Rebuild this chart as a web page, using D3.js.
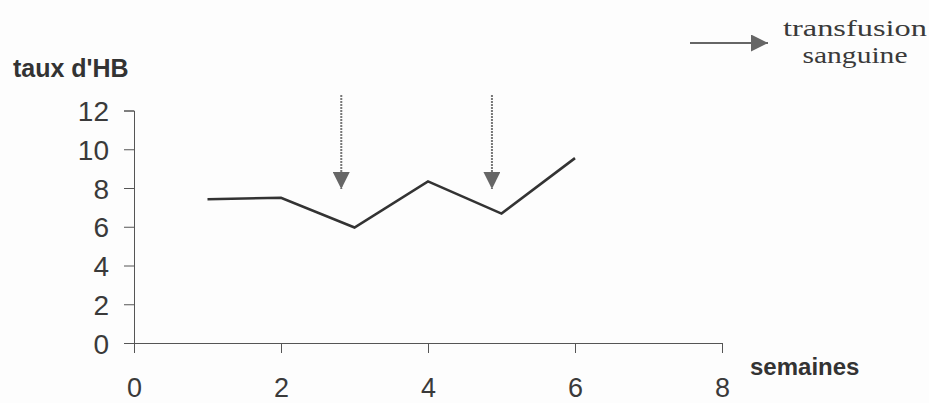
<!DOCTYPE html>
<html>
<head>
<meta charset="utf-8">
<script src="https://cdn.jsdelivr.net/npm/d3@7"></script>
<style>
  html, body { margin: 0; padding: 0; background: #fdfdfd; }
  svg { display: block; }
</style>
</head>
<body>
<svg id="chart" width="929" height="403"></svg>
<script>
// ---- data ----
const weeks = [1, 2, 3, 4, 5, 6];
const hbValues = [7.42, 7.5, 5.96, 8.34, 6.68, 9.54];
const transfusionWeeks = [2.82, 4.87];
const transfusionFrom = [12.8, 12.8];
const transfusionTo = [7.95, 7.95];
const xTicks = [0, 2, 4, 6, 8];
const yTicks = [0, 2, 4, 6, 8, 10, 12];
const yLabel = "taux d'HB";
const xLabel = "semaines";
const legendLines = ["transfusion", "sanguine"];

// ---- layout ----
const svg = d3.select("#chart");
const x = d3.scaleLinear().domain([0, 8]).range([134, 722]);
const y = d3.scaleLinear().domain([0, 12]).range([343, 110.5]);

const axisColor = "#555";
const textColor = "#3a3a3a";

svg.append("defs").append("marker")
  .attr("id", "head")
  .attr("viewBox", "0 0 10 10")
  .attr("refX", 10).attr("refY", 5)
  .attr("markerUnits", "userSpaceOnUse")
  .attr("markerWidth", 17).attr("markerHeight", 17)
  .attr("orient", "auto")
  .append("path")
  .attr("d", "M0,0 L10,5 L0,10 Z")
  .attr("fill", "#666");

// y axis
const yAxis = svg.append("g")
  .attr("transform", `translate(${x(0)},0)`)
  .call(d3.axisLeft(y).tickValues(yTicks).tickSize(10).tickPadding(15));
yAxis.select(".domain").attr("stroke", axisColor).attr("stroke-width", 1);
yAxis.selectAll(".tick line").attr("stroke", axisColor);
yAxis.selectAll(".tick text")
  .attr("fill", textColor)
  .style("font-family", "Liberation Sans, Arial, sans-serif")
  .style("font-size", "28px")
  .attr("dy", "0.36em");

// x axis
const xAxis = svg.append("g")
  .attr("transform", `translate(0,${y(0)})`)
  .call(d3.axisBottom(x).tickValues(xTicks).tickSize(10).tickPadding(15));
xAxis.select(".domain").attr("stroke", axisColor).attr("stroke-width", 1);
xAxis.selectAll(".tick line").attr("stroke", axisColor);
xAxis.selectAll(".tick text")
  .attr("fill", textColor)
  .style("font-family", "Liberation Sans, Arial, sans-serif")
  .style("font-size", "27px")
  .attr("y", 54)
  .attr("dy", 0);

// axis titles
svg.append("text")
  .attr("x", 13).attr("y", 77)
  .attr("fill", "#333")
  .style("font-family", "Liberation Sans, Arial, sans-serif")
  .style("font-weight", "bold")
  .style("font-size", "25px")
  .text(yLabel);

svg.append("text")
  .attr("x", 750).attr("y", 375)
  .attr("fill", "#333")
  .style("font-family", "Liberation Sans, Arial, sans-serif")
  .style("font-weight", "bold")
  .style("font-size", "24px")
  .text(xLabel);

// data line
const line = d3.line().x((d, i) => x(weeks[i])).y(d => y(d));
svg.append("path")
  .datum(hbValues)
  .attr("d", line)
  .attr("fill", "none")
  .attr("stroke", "#333")
  .attr("stroke-width", 2.6)
  .attr("stroke-linejoin", "miter");

// transfusion arrows
svg.selectAll(".tarrow")
  .data(transfusionWeeks)
  .enter().append("line")
  .attr("class", "tarrow")
  .attr("x1", d => x(d)).attr("x2", d => x(d))
  .attr("y1", (d, i) => y(transfusionFrom[i]))
  .attr("y2", (d, i) => y(transfusionTo[i]))
  .attr("stroke", "#777")
  .attr("stroke-width", 2)
  .attr("stroke-dasharray", "2,1")
  .attr("marker-end", "url(#head)");

// legend
svg.append("line")
  .attr("x1", 690).attr("x2", 768)
  .attr("y1", 43).attr("y2", 43)
  .attr("stroke", "#666")
  .attr("stroke-width", 2)
  .attr("marker-end", "url(#head)");

svg.selectAll(".leg")
  .data(legendLines)
  .enter().append("text")
  .attr("class", "leg")
  .attr("x", 855)
  .attr("y", (d, i) => 36 + i * 27)
  .attr("text-anchor", "middle")
  .attr("fill", textColor)
  .style("font-family", "Liberation Serif, Times New Roman, serif")
  .style("font-size", "23px")
  .attr("textLength", (d, i) => i === 0 ? 144 : 105)
  .attr("lengthAdjust", "spacingAndGlyphs")
  .text(d => d);
</script>
</body>
</html>
